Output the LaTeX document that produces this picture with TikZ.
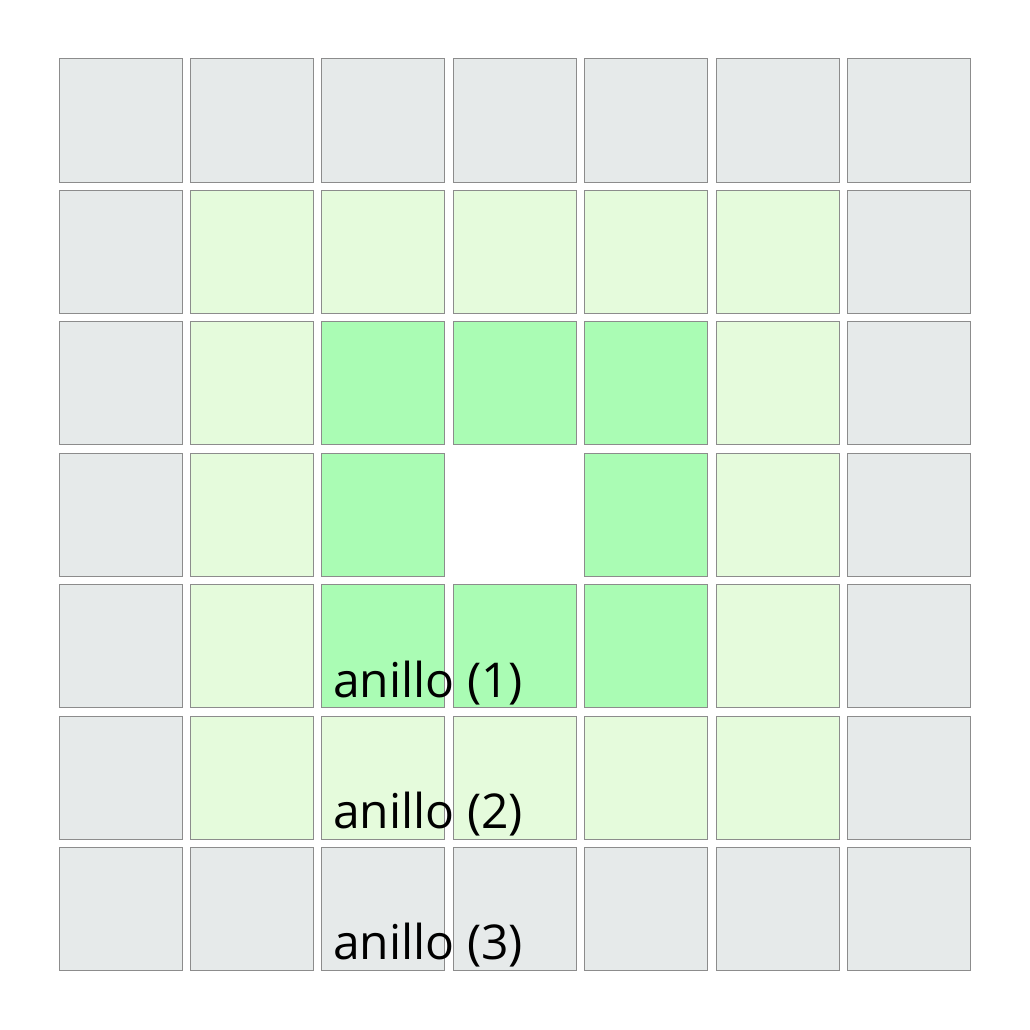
\documentclass[tikz,border=0pt]{standalone}
\usepackage{fontspec}
\setmainfont{Open Sans}
\definecolor{cgrey}{RGB}{230,234,234}
\definecolor{clight}{RGB}{229,251,220}
\definecolor{cgreen}{RGB}{170,252,180}
\definecolor{cline}{RGB}{140,140,140}
\begin{document}
\begin{tikzpicture}[x=1pt,y=-1pt,
  cell/.style={draw=cline,line width=1pt,minimum size=123pt,inner sep=0pt,outer sep=0pt},
  lbl/.style={anchor=base west,inner sep=0pt,font=\fontsize{48}{56}\selectfont,text=black}]
\useasboundingbox (0,0) rectangle (1030,1030);
\foreach \i in {0,...,6}{
  \foreach \j in {0,...,6}{
    \pgfmathtruncatemacro{\di}{max(abs(\i-3),abs(\j-3))}
    \ifnum\di=3 \def\cc{cgrey}\fi
    \ifnum\di=2 \def\cc{clight}\fi
    \ifnum\di=1 \def\cc{cgreen}\fi
    \ifnum\di>0
      \node[cell,fill=\cc] (c\i\j) at ({120.5+131.4*\i},{120.5+131.4*\j}) {};
    \fi
  }
}
\node[lbl] (r1) at (333,697) {anillo (1)};
\node[lbl] (r2) at (333,828) {anillo (2)};
\node[lbl] (r3) at (333,959) {anillo (3)};
\end{tikzpicture}
\end{document}
